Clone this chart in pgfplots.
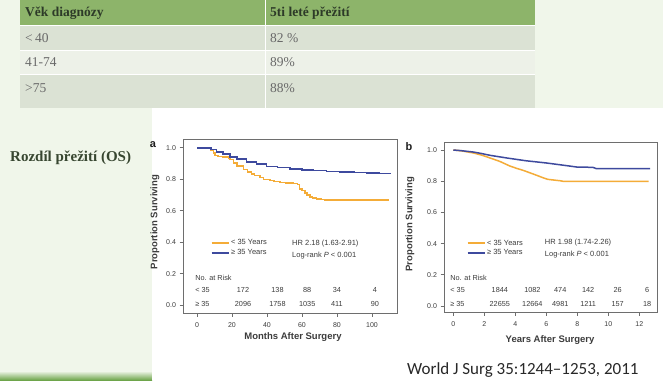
\documentclass[border=0pt]{standalone}
\usepackage{fontspec}
\setmainfont{Liberation Serif}
\newfontfamily\arial{Liberation Sans}
\newfontfamily\calibri{Carlito}
\usepackage{pgfplots}
\pgfplotsset{compat=1.18}
\definecolor{slidebg}{RGB}{240,246,234}
\definecolor{hdr}{RGB}{141,180,106}
\definecolor{rowa}{RGB}{219,226,212}
\definecolor{rowb}{RGB}{237,241,232}
\definecolor{hdrtext}{RGB}{45,58,40}
\definecolor{rowtext}{RGB}{105,105,105}
\definecolor{kmorange}{RGB}{244,172,56}
\definecolor{kmblue}{RGB}{62,74,158}
\definecolor{framegray}{RGB}{110,110,110}
\definecolor{txtgray}{RGB}{60,60,60}
\definecolor{rozd}{RGB}{55,70,48}

\pgfplotstableread{
x y
0 1
7 1
8 0.985
9.3 0.968
10.3 0.950
12 0.945
15 0.941
17.9 0.936
19 0.925
20.8 0.905
23 0.885
26.5 0.862
29 0.848
31.2 0.834
33 0.825
36 0.810
38 0.800
41.7 0.793
44 0.786
47.4 0.781
51 0.777
55 0.772
57.3 0.766
58.5 0.740
60 0.728
61.7 0.713
63 0.700
64.6 0.686
66 0.680
68.4 0.675
71 0.672
73.1 0.667
109.5 0.667
}\aorange
\pgfplotstableread{
x y
0 1
6.5 1
8 0.99
11.2 0.975
15 0.960
18.9 0.943
23 0.928
28.4 0.911
34 0.896
39.8 0.883
46 0.874
53.1 0.866
60 0.860
66.5 0.855
74 0.851
81.7 0.847
90 0.843
97 0.840
104 0.838
110.3 0.836
}\ablue
\pgfplotstableread{
x y
0 1
0.5 0.995
1.3 0.981
1.8 0.968
2.37 0.949
3.0 0.927
3.66 0.897
4.1 0.882
4.5 0.870
5.16 0.846
5.8 0.822
6.1 0.812
6.45 0.808
6.9 0.803
7.1 0.799
12.6 0.799
}\borange
\pgfplotstableread{
x y
0 1
0.5 0.996
1.3 0.987
1.8 0.978
2.37 0.966
3.45 0.949
4.7 0.931
6.0 0.917
7.3 0.900
7.96 0.891
9.0 0.889
9.25 0.880
12.7 0.880
}\bblue

\tikzset{kmtxt/.style={font=\arial\fontsize{7.3}{8}\selectfont, text=txtgray, inner sep=0pt},
         kmleg/.style={font=\arial\fontsize{7.5}{8}\selectfont, text=txtgray, inner sep=0pt}}
\pgfplotsset{kmstyle/.style={
  scale only axis, clip=false,
  axis line style={framegray, line width=1pt},
  tick pos=left, tick align=outside, major tick length=3.5pt,
  tick style={framegray, line width=0.8pt},
  ytick={0,0.2,0.4,0.6,0.8,1.0},
  yticklabel style={/pgf/number format/fixed, /pgf/number format/fixed zerofill, /pgf/number format/precision=1},
  xticklabel style={yshift=-2.5pt},
  /pgf/number format/assume math mode=true,
  tick label style={font=\arial\fontsize{7}{8}\selectfont, text=txtgray},
  label style={font=\arial\bfseries\fontsize{9.5}{10}\selectfont, text=txtgray},
  legend cell align=left,
  legend style={draw=none, fill=none, font=\arial\fontsize{7.5}{8}\selectfont, text=txtgray,
    inner sep=0pt, row sep=0pt, nodes={inner sep=1.5pt}},
  legend image code/.code={\draw[##1, line width=2pt] (0pt,0pt) -- (17pt,0pt);},
}}

\begin{document}
\begin{tikzpicture}
\fill[slidebg] (0pt,0pt) rectangle (663pt,380pt);
\shade[top color=slidebg, bottom color={rgb,255:red,110;green,165;blue,75}] (0pt,0pt) rectangle (152pt,9pt);
\fill[white] (152pt,0pt) rectangle (663pt,272pt);
% table
\fill[hdr] (20pt,355pt) rectangle (535pt,380pt);
\fill[rowa] (20pt,330pt) rectangle (535pt,355pt);
\fill[rowb] (20pt,306pt) rectangle (535pt,330pt);
\fill[rowa] (20pt,272pt) rectangle (535pt,306pt);
\draw[white, line width=0.8pt] (20pt,355pt) -- (535pt,355pt);
\draw[white, line width=0.8pt] (20pt,330pt) -- (535pt,330pt);
\draw[white, line width=0.8pt] (20pt,306pt) -- (535pt,306pt);
\draw[white, line width=0.8pt] (265pt,272pt) -- (265pt,380pt);
\begin{scope}[every node/.style={inner sep=0pt, anchor=base west, font=\fontsize{13.5}{15}\selectfont}]
\node[text=hdrtext, font=\bfseries\fontsize{13.5}{15}\selectfont] at (25pt,363pt) {Věk diagnózy};
\node[text=hdrtext, font=\bfseries\fontsize{13.5}{15}\selectfont] at (270pt,363pt) {5ti leté přežití};
\node[text=rowtext] at (25pt,337.5pt) {<\,40};
\node[text=rowtext] at (270pt,337.5pt) {82 \%};
\node[text=rowtext] at (25pt,313.5pt) {41-74};
\node[text=rowtext] at (270pt,313.5pt) {89\%};
\node[text=rowtext] at (25pt,287.5pt) {>75};
\node[text=rowtext] at (270pt,287.5pt) {88\%};
\end{scope}
\node[anchor=west, inner sep=0pt, text=rozd, font=\bfseries\fontsize{15}{17}\selectfont] at (10pt,222pt) {Rozdíl přežití (OS)};
\node[anchor=base west, inner sep=0pt, text={rgb,255:red,40;green,40;blue,40}, font=\calibri\fontsize{17}{19}\selectfont] at (407pt,6pt) {World J Surg 35:1244–1253, 2011};

% panel a
\begin{axis}[kmstyle, at={(183pt,67pt)}, anchor=south west, width=214pt, height=173pt,
  xmin=-8, xmax=114.3, ymin=-0.05, ymax=1.05,
  xtick={0,20,40,60,80,100},
  xlabel={Months After Surgery}, ylabel={Proportion Surviving},
  xlabel style={at={(axis description cs:0.514,0)}, anchor=center, yshift=-24pt},
  ylabel style={at={(axis description cs:-0.131,0.526)}, anchor=center},
  legend style={at={(axis description cs:0.128,0.435)}, anchor=north west}]
\addplot[kmorange, const plot, line width=1.5pt, mark=none] table {\aorange};
\addlegendentry{< 35 Years}
\addplot[kmblue, const plot, line width=1.5pt, mark=none] table {\ablue};
\addlegendentry{≥ 35 Years}
\node[kmleg, anchor=west] at (axis cs:54.3,0.389) {HR 2.18 (1.63-2.91)};
\node[kmleg, anchor=west] at (axis cs:54.3,0.318) {Log-rank \textit{P} < 0.001};
\node[kmtxt, anchor=west] at (axis cs:-1.1,0.172) {No. at Risk};
\node[kmtxt, anchor=west] at (axis cs:-1.1,0.096) {< 35};
\node[kmtxt, anchor=west] at (axis cs:-1.1,0.006) {≥ 35};
\node[kmtxt] at (axis cs:26.3,0.096) {172};
\node[kmtxt] at (axis cs:46,0.096) {138};
\node[kmtxt] at (axis cs:63,0.096) {88};
\node[kmtxt] at (axis cs:80,0.096) {34};
\node[kmtxt] at (axis cs:101.7,0.096) {4};
\node[kmtxt] at (axis cs:26.3,0.006) {2096};
\node[kmtxt] at (axis cs:46,0.006) {1758};
\node[kmtxt] at (axis cs:63,0.006) {1035};
\node[kmtxt] at (axis cs:80,0.006) {411};
\node[kmtxt] at (axis cs:101.7,0.006) {90};
\node[font=\arial\bfseries\fontsize{11}{12}\selectfont, text={rgb,255:red,30;green,30;blue,30}] at (axis description cs:-0.14,0.971) {a};
\end{axis}

% panel b
\begin{axis}[kmstyle, at={(444pt,68pt)}, anchor=south west, width=213pt, height=169pt,
  xmin=-0.6, xmax=13.14, ymin=-0.038, ymax=1.045,
  xtick={0,2,4,6,8,10,12},
  xlabel={Years After Surgery}, ylabel={Proportion Surviving},
  xlabel style={at={(axis description cs:0.498,0)}, anchor=center, yshift=-28pt},
  ylabel style={at={(axis description cs:-0.16,0.52)}, anchor=center},
  legend style={at={(axis description cs:0.105,0.437)}, anchor=north west}]
\addplot[kmorange, line width=1.5pt, mark=none] table {\borange};
\addlegendentry{< 35 Years}
\addplot[kmblue, line width=1.5pt, mark=none] table {\bblue};
\addlegendentry{≥ 35 Years}
\node[kmleg, anchor=west] at (axis cs:5.9,0.404) {HR 1.98 (1.74-2.26)};
\node[kmleg, anchor=west] at (axis cs:5.9,0.333) {Log-rank \textit{P} < 0.001};
\node[kmtxt, anchor=west] at (axis cs:-0.2,0.18) {No. at Risk};
\node[kmtxt, anchor=west] at (axis cs:-0.2,0.103) {< 35};
\node[kmtxt, anchor=west] at (axis cs:-0.2,0.013) {≥ 35};
\node[kmtxt] at (axis cs:3.0,0.103) {1844};
\node[kmtxt] at (axis cs:5.1,0.103) {1082};
\node[kmtxt] at (axis cs:6.9,0.103) {474};
\node[kmtxt] at (axis cs:8.7,0.103) {142};
\node[kmtxt] at (axis cs:10.6,0.103) {26};
\node[kmtxt] at (axis cs:12.5,0.103) {6};
\node[kmtxt] at (axis cs:3.0,0.013) {22655};
\node[kmtxt] at (axis cs:5.1,0.013) {12664};
\node[kmtxt] at (axis cs:6.9,0.013) {4981};
\node[kmtxt] at (axis cs:8.7,0.013) {1211};
\node[kmtxt] at (axis cs:10.6,0.013) {157};
\node[kmtxt] at (axis cs:12.5,0.013) {18};
\node[font=\arial\bfseries\fontsize{11}{12}\selectfont, text={rgb,255:red,30;green,30;blue,30}] at (axis description cs:-0.164,0.976) {b};
\end{axis}
\pgfresetboundingbox
\path[use as bounding box] (0pt,0pt) rectangle (663pt,380pt);
\end{tikzpicture}
\end{document}
